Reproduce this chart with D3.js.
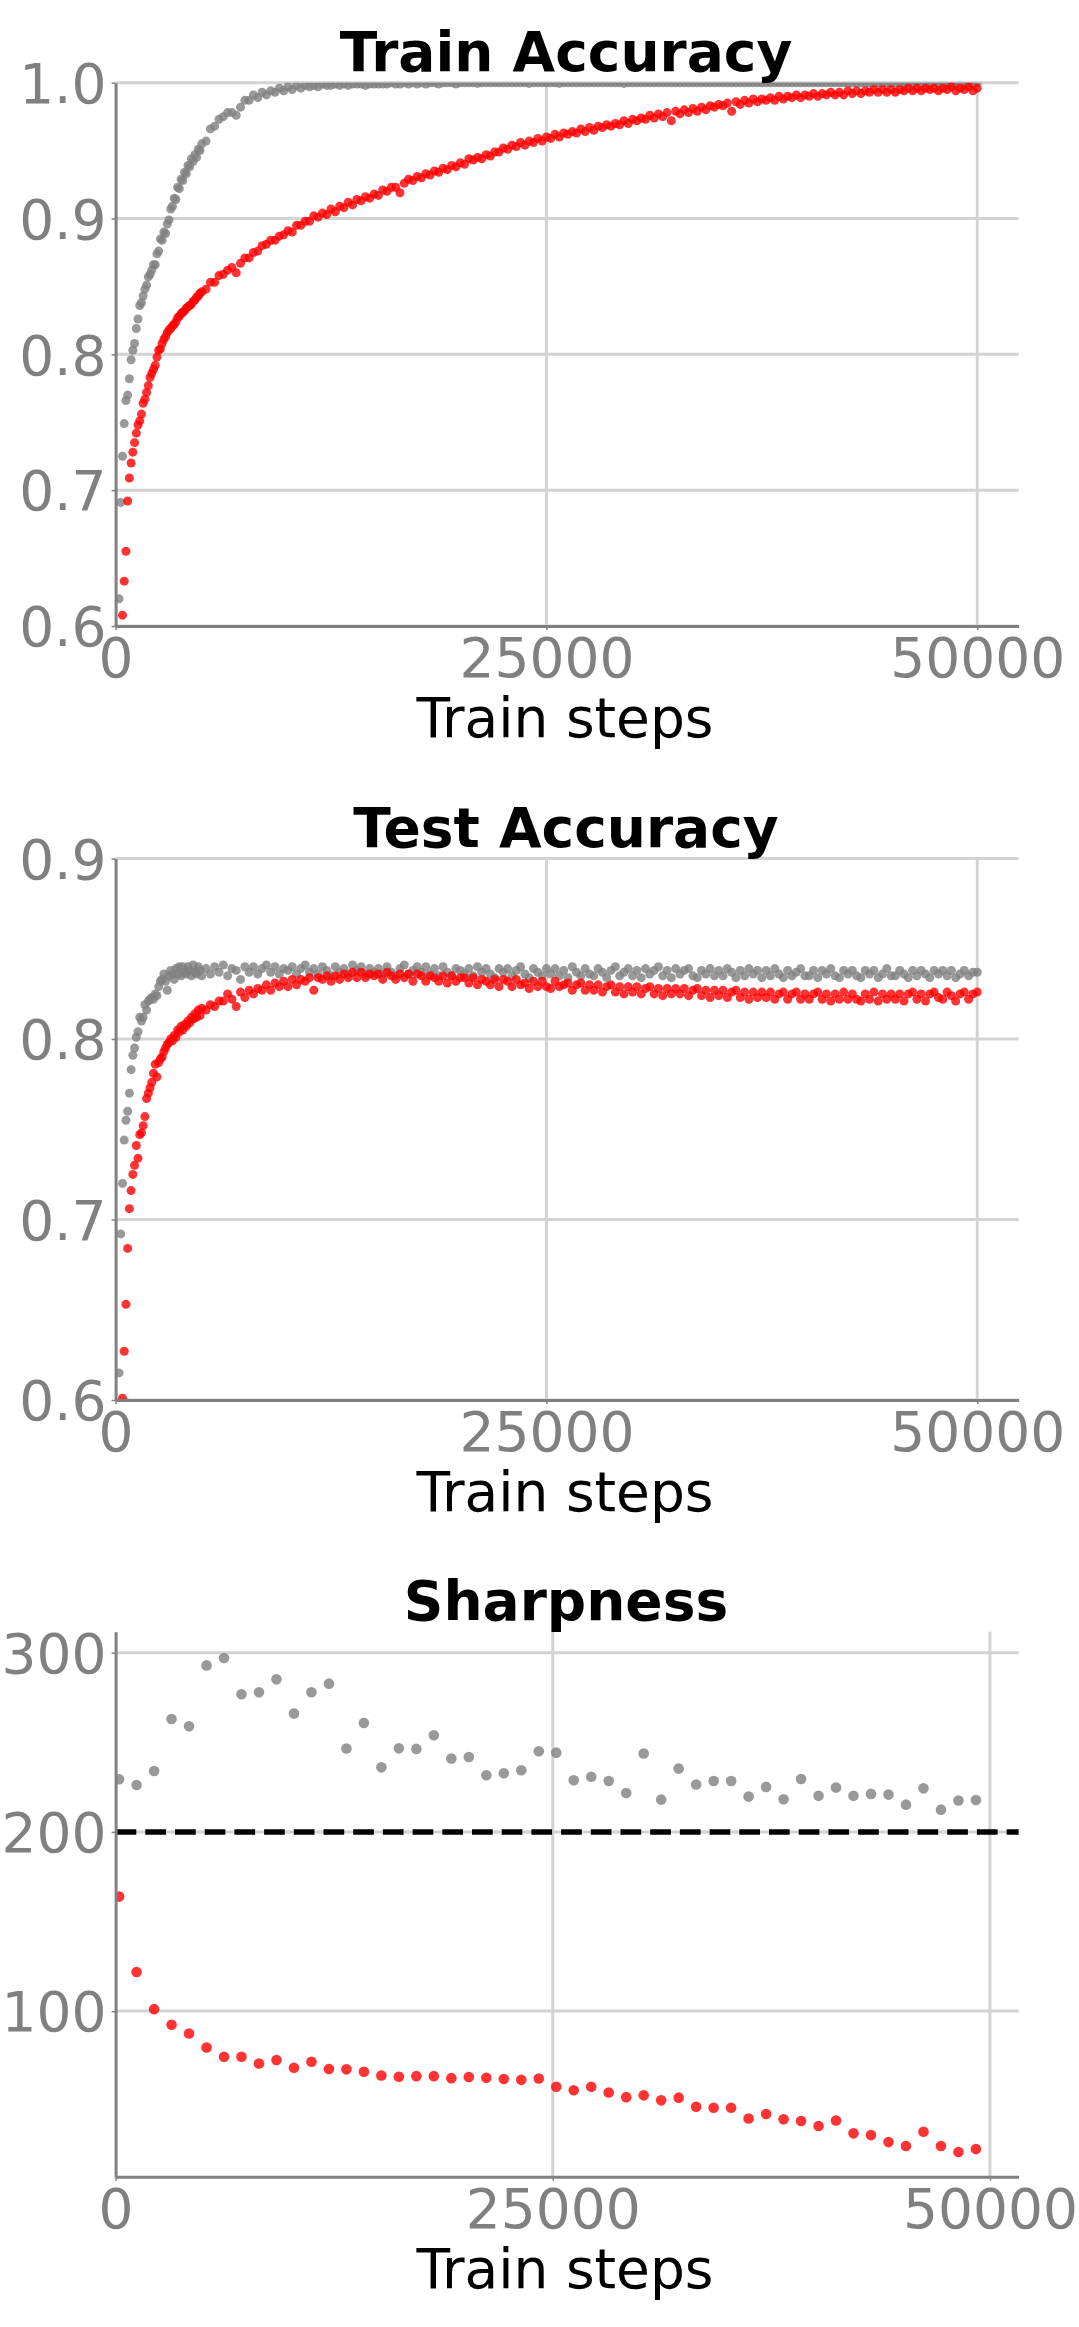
<!DOCTYPE html>
<html>

<head>
	<meta charset="utf-8">
	<title>Train Accuracy / Test Accuracy / Sharpness</title>
	<script src="https://d3js.org/d3.v7.min.js"></script>
	<style>
		body {
			margin: 0;
			padding: 0;
			background: white;
			overflow: hidden;
		}

		svg text {
			font-family: "DejaVu Sans", sans-serif;
		}

		.title {
			font-size: 55px;
			font-weight: bold;
			fill: black;
			text-anchor: middle;
		}

		.xlabel {
			font-size: 55px;
			fill: black;
			text-anchor: middle;
		}
	</style>
</head>

<body>
	<script>
		// evaluation steps: every 100 steps up to 5000, then every 250
		const earlySteps = d3.range(100, 5001, 100);
		const lateSteps = d3.range(5250, 50001, 250);
		const accSteps = earlySteps.concat(lateSteps);

		const trainAccGrey = [
			0.585, 0.620, 0.691, 0.725, 0.749, 0.766, 0.770, 0.782, 0.796, 0.803,
			0.808, 0.819, 0.826, 0.836, 0.838, 0.843, 0.848, 0.851, 0.857, 0.859,
			0.862, 0.866, 0.866, 0.874, 0.876, 0.885, 0.884, 0.890, 0.889, 0.896,
			0.899, 0.907, 0.909, 0.915, 0.914, 0.923, 0.922, 0.929, 0.928, 0.934,
			0.933, 0.939, 0.938, 0.944, 0.942, 0.947, 0.945, 0.951, 0.950, 0.955,
			// 5250 -> 50000
			0.957, 0.966, 0.968, 0.973, 0.975, 0.978, 0.978, 0.976, 0.982, 0.987,
			0.987, 0.991, 0.989, 0.993, 0.991, 0.994, 0.993, 0.996, 0.994, 0.997,
			0.995, 0.998, 0.996, 0.998, 0.997, 0.998, 0.997, 0.999, 0.998, 0.998,
			0.999, 0.998, 0.999, 0.998, 0.999, 0.999, 0.999, 0.998, 0.999, 0.999,
			0.999, 0.999, 0.999, 1.000, 0.999, 0.999, 1.000, 0.999, 1.000, 0.999,
			1.000, 0.999, 1.000, 1.000, 0.999, 1.000, 1.000, 1.000, 0.999, 1.000,
			1.000, 1.000, 1.000, 0.9995, 1.000, 1.000, 1.000, 1.000, 1.000, 1.000,
			1.000, 1.000, 1.000, 1.000, 1.000, 0.9995, 1.000, 1.000, 1.000, 1.000,
			1.000, 1.000, 0.9995, 1.000, 1.000, 1.000, 1.000, 1.000, 1.000, 1.000,
			1.000, 1.000, 1.000, 1.000, 1.000, 1.000, 1.000, 0.9995, 1.000, 1.000,
			1.000, 1.000, 1.000, 1.000, 1.000, 1.000, 1.000, 1.000, 1.000, 1.000,
			1.000, 1.000, 1.000, 1.000, 1.000, 1.000, 1.000, 1.000, 1.000, 1.000,
			1.000, 1.000, 1.000, 1.000, 1.000, 1.000, 1.000, 1.000, 1.000, 1.000,
			1.000, 1.000, 1.000, 1.000, 1.000, 1.000, 1.000, 1.000, 1.000, 1.000,
			1.000, 1.000, 1.000, 1.000, 1.000, 1.000, 1.000, 1.000, 1.000, 1.000,
			1.000, 1.000, 1.000, 1.000, 1.000, 1.000, 1.000, 1.000, 1.000, 1.000,
			1.000, 1.000, 1.000, 1.000, 1.000, 1.000, 1.000, 1.000, 1.000, 1.000,
			1.000, 1.000, 1.000, 1.000, 1.000, 1.000, 1.000, 1.000, 1.000, 1.000
		];

		const trainAccRed = [
			0.520, 0.550, 0.585, 0.608, 0.633, 0.655, 0.692, 0.709, 0.720, 0.728,
			0.735, 0.742, 0.748, 0.751, 0.756, 0.764, 0.767, 0.772, 0.777, 0.783,
			0.786, 0.789, 0.792, 0.798, 0.803, 0.804, 0.808, 0.811, 0.813, 0.816,
			0.818, 0.819, 0.821, 0.822, 0.824, 0.827, 0.828, 0.830, 0.831, 0.832,
			0.834, 0.835, 0.836, 0.837, 0.839, 0.840, 0.842, 0.843, 0.845, 0.846,
			// 5250 -> 50000
			0.848, 0.853, 0.853, 0.858, 0.859, 0.862, 0.864, 0.860, 0.867, 0.871,
			0.871, 0.875, 0.876, 0.880, 0.881, 0.884, 0.884, 0.887, 0.888, 0.891,
			0.890, 0.895, 0.895, 0.898, 0.898, 0.902, 0.901, 0.904, 0.903, 0.907,
			0.905, 0.909, 0.908, 0.912, 0.910, 0.914, 0.913, 0.916, 0.915, 0.918,
			0.917, 0.921, 0.920, 0.923, 0.923, 0.919, 0.926, 0.929, 0.928, 0.931,
			0.930, 0.933, 0.932, 0.935, 0.934, 0.937, 0.936, 0.939, 0.938, 0.941,
			0.940, 0.944, 0.943, 0.945, 0.944, 0.947, 0.946, 0.949, 0.949, 0.952,
			0.951, 0.954, 0.953, 0.956, 0.954, 0.957, 0.956, 0.959, 0.957, 0.960,
			0.959, 0.962, 0.960, 0.963, 0.962, 0.964, 0.963, 0.966, 0.964, 0.967,
			0.965, 0.968, 0.967, 0.969, 0.968, 0.970, 0.969, 0.972, 0.970, 0.973,
			0.972, 0.974, 0.973, 0.976, 0.974, 0.977, 0.975, 0.978, 0.972, 0.979,
			0.977, 0.980, 0.978, 0.981, 0.979, 0.982, 0.980, 0.983, 0.982, 0.984,
			0.983, 0.985, 0.979, 0.986, 0.984, 0.987, 0.985, 0.988, 0.986, 0.988,
			0.987, 0.989, 0.987, 0.990, 0.988, 0.990, 0.989, 0.991, 0.989, 0.991,
			0.990, 0.992, 0.990, 0.992, 0.991, 0.993, 0.991, 0.993, 0.991, 0.994,
			0.992, 0.994, 0.992, 0.994, 0.993, 0.995, 0.993, 0.995, 0.993, 0.995,
			0.993, 0.995, 0.994, 0.996, 0.994, 0.996, 0.994, 0.996, 0.995, 0.996,
			0.994, 0.996, 0.995, 0.997, 0.994, 0.996, 0.995, 0.997, 0.994, 0.996
		];

		const testAccGrey = [
			0.580, 0.615, 0.692, 0.720, 0.744, 0.755, 0.760, 0.770, 0.783, 0.791,
			0.795, 0.801, 0.804, 0.812, 0.810, 0.812, 0.819, 0.816, 0.821, 0.822,
			0.823, 0.822, 0.825, 0.824, 0.829, 0.832, 0.833, 0.836, 0.832, 0.827,
			0.835, 0.838, 0.836, 0.833, 0.839, 0.836, 0.840, 0.835, 0.840, 0.837,
			0.836, 0.840, 0.838, 0.835, 0.841, 0.837, 0.836, 0.840, 0.838, 0.835,
			// 5250 -> 50000
			0.839, 0.836, 0.840, 0.837, 0.841, 0.835, 0.839, 0.838, 0.833, 0.840,
			0.837, 0.840, 0.836, 0.839, 0.841, 0.837, 0.840, 0.836, 0.839, 0.838,
			0.840, 0.836, 0.839, 0.841, 0.837, 0.839, 0.836, 0.840, 0.838, 0.835,
			0.840, 0.837, 0.839, 0.836, 0.841, 0.838, 0.840, 0.836, 0.839, 0.837,
			0.839, 0.836, 0.840, 0.837, 0.835, 0.839, 0.841, 0.836, 0.838, 0.840,
			0.837, 0.840, 0.836, 0.839, 0.835, 0.840, 0.837, 0.835, 0.839, 0.838,
			0.836, 0.839, 0.835, 0.840, 0.837, 0.839, 0.836, 0.834, 0.839, 0.837,
			0.839, 0.835, 0.838, 0.840, 0.836, 0.834, 0.839, 0.837, 0.835, 0.839,
			0.836, 0.839, 0.835, 0.838, 0.834, 0.840, 0.837, 0.835, 0.839, 0.836,
			0.835, 0.839, 0.837, 0.834, 0.838, 0.840, 0.835, 0.837, 0.839, 0.835,
			0.838, 0.834, 0.839, 0.836, 0.838, 0.840, 0.835, 0.838, 0.834, 0.839,
			0.836, 0.838, 0.839, 0.835, 0.834, 0.838, 0.836, 0.839, 0.835, 0.838,
			0.835, 0.839, 0.837, 0.834, 0.838, 0.835, 0.839, 0.836, 0.838, 0.834,
			0.838, 0.835, 0.839, 0.836, 0.834, 0.838, 0.835, 0.837, 0.839, 0.835,
			0.835, 0.838, 0.834, 0.838, 0.836, 0.839, 0.835, 0.834, 0.838, 0.836,
			0.838, 0.835, 0.834, 0.838, 0.836, 0.838, 0.834, 0.836, 0.839, 0.835,
			0.835, 0.838, 0.836, 0.834, 0.838, 0.835, 0.838, 0.836, 0.834, 0.838,
			0.836, 0.838, 0.835, 0.838, 0.834, 0.836, 0.838, 0.835, 0.837, 0.837
		];

		const testAccRed = [
			0.540, 0.565, 0.585, 0.601, 0.627, 0.653, 0.684, 0.706, 0.716, 0.725,
			0.730, 0.741, 0.734, 0.747, 0.748, 0.752, 0.757, 0.767, 0.770, 0.773,
			0.776, 0.781, 0.786, 0.779, 0.787, 0.789, 0.790, 0.793, 0.795, 0.797,
			0.798, 0.800, 0.799, 0.802, 0.801, 0.805, 0.804, 0.807, 0.805, 0.808,
			0.807, 0.810, 0.809, 0.812, 0.811, 0.814, 0.812, 0.816, 0.813, 0.817,
			// 5250 -> 50000
			0.816, 0.819, 0.818, 0.821, 0.821, 0.825, 0.822, 0.818, 0.826, 0.823,
			0.827, 0.825, 0.828, 0.827, 0.830, 0.827, 0.831, 0.829, 0.832, 0.829,
			0.833, 0.830, 0.833, 0.832, 0.834, 0.827, 0.834, 0.833, 0.835, 0.832,
			0.835, 0.833, 0.836, 0.834, 0.837, 0.834, 0.837, 0.834, 0.836, 0.835,
			0.836, 0.833, 0.837, 0.835, 0.833, 0.836, 0.834, 0.836, 0.832, 0.836,
			0.835, 0.832, 0.835, 0.834, 0.832, 0.835, 0.831, 0.835, 0.832, 0.834,
			0.834, 0.831, 0.834, 0.830, 0.833, 0.832, 0.830, 0.833, 0.829, 0.833,
			0.832, 0.829, 0.833, 0.830, 0.831, 0.828, 0.832, 0.829, 0.832, 0.829,
			0.828, 0.832, 0.829, 0.830, 0.831, 0.827, 0.830, 0.831, 0.827, 0.830,
			0.827, 0.830, 0.826, 0.829, 0.830, 0.826, 0.829, 0.825, 0.829, 0.826,
			0.829, 0.825, 0.828, 0.829, 0.825, 0.828, 0.824, 0.828, 0.825, 0.828,
			0.825, 0.828, 0.824, 0.827, 0.828, 0.824, 0.827, 0.823, 0.827, 0.824,
			0.827, 0.823, 0.826, 0.827, 0.823, 0.826, 0.822, 0.826, 0.823, 0.826,
			0.823, 0.826, 0.822, 0.825, 0.826, 0.822, 0.825, 0.826, 0.822, 0.825,
			0.822, 0.825, 0.826, 0.822, 0.825, 0.821, 0.825, 0.822, 0.826, 0.822,
			0.825, 0.822, 0.821, 0.825, 0.822, 0.826, 0.821, 0.825, 0.822, 0.825,
			0.822, 0.825, 0.821, 0.825, 0.826, 0.822, 0.825, 0.821, 0.825, 0.826,
			0.823, 0.822, 0.826, 0.824, 0.821, 0.825, 0.826, 0.822, 0.825, 0.826
		];

		// sharpness measured every 1000 steps
		const sharpSteps = d3.range(200, 50000, 1000);
		const sharpGrey = [
			229.4, 226.2, 234.0, 263.0, 258.9, 292.9, 297.0, 276.8, 277.9, 285.1,
			266.0, 277.9, 282.7, 246.5, 260.8, 236.0, 246.6, 246.3, 253.9, 240.9,
			241.8, 231.6, 232.7, 234.4, 245.0, 244.2, 228.8, 230.8, 228.4, 221.7,
			243.7, 218.0, 235.3, 226.4, 228.4, 228.4, 219.7, 225.1, 218.2, 229.5,
			220.1, 224.7, 220.2, 221.2, 220.8, 215.2, 224.3, 212.4, 217.5, 217.8
		];
		const sharpRed = [
			163.9, 121.8, 101.1, 92.4, 87.5, 79.7, 74.5, 74.5, 70.8, 72.7,
			68.4, 71.7, 67.7, 67.5, 66.2, 64.1, 63.4, 63.7, 63.7, 62.6,
			63.2, 62.8, 62.1, 61.7, 62.4, 57.8, 55.8, 57.8, 54.6, 52.0,
			53.0, 50.2, 51.7, 46.6, 46.1, 46.1, 40.1, 42.6, 39.6, 38.7,
			35.9, 39.0, 31.8, 30.8, 26.9, 24.7, 32.7, 24.7, 21.4, 23.0
		];
		const sharpThreshold = 200;

		const xTicks = [0, 25000, 50000];
		const trainTicks = [0.6, 0.7, 0.8, 0.9, 1.0];
		const testTicks = [0.6, 0.7, 0.8, 0.9];
		const sharpTicks = [100, 200, 300];

		var width = 1079,
			height = 2327;
		var left = 115.6,
			right = 1018.6;
		var greyCol = "#808080",
			redCol = "#ff0000";

		var svg = d3.select("body").append("svg")
			.attr("width", width)
			.attr("height", height)
			.style("background", "white");

		var panels = [{
			id: 0,
			title: "Train Accuracy",
			top: 82.7,
			bottom: 626,
			yDomain: [0.6, 1.0],
			yTicks: trainTicks,
			fmt: ".1f",
			xMax: 52400,
			r: 4.5,
			series: [[accSteps, trainAccGrey, greyCol], [accSteps, trainAccRed, redCol]]
		}, {
			id: 1,
			title: "Test Accuracy",
			top: 858.5,
			bottom: 1400,
			yDomain: [0.6, 0.9],
			yTicks: testTicks,
			fmt: ".1f",
			xMax: 52400,
			r: 4.5,
			series: [[accSteps, testAccGrey, greyCol], [accSteps, testAccRed, redCol]]
		}, {
			id: 2,
			title: "Sharpness",
			top: 1631.7,
			bottom: 2176.7,
			yDomain: [7.6, 311.7],
			yTicks: sharpTicks,
			fmt: "d",
			xMax: 51640,
			r: 5.3,
			hline: sharpThreshold,
			series: [[sharpSteps, sharpGrey, greyCol], [sharpSteps, sharpRed, redCol]]
		}];

		panels.forEach(drawPanel);

		function drawPanel(p) {
			var x = d3.scaleLinear().domain([0, p.xMax]).range([left, right]);
			var y = d3.scaleLinear().domain(p.yDomain).range([p.bottom, p.top]);
			var g = svg.append("g");

			svg.append("clipPath").attr("id", "clip" + p.id)
				.append("rect")
				.attr("x", left).attr("y", p.top)
				.attr("width", right - left).attr("height", p.bottom - p.top);

			// grid
			g.append("g").selectAll("line").data(p.yTicks).join("line")
				.attr("x1", left).attr("x2", right)
				.attr("y1", (d) => y(d)).attr("y2", (d) => y(d))
				.style("stroke", "#d3d3d3").style("stroke-width", 3);
			g.append("g").selectAll("line").data(xTicks.filter((d) => d > 0)).join("line")
				.attr("x1", (d) => x(d)).attr("x2", (d) => x(d))
				.attr("y1", p.top).attr("y2", p.bottom)
				.style("stroke", "#d3d3d3").style("stroke-width", 3);

			// points
			var pts = g.append("g").attr("clip-path", "url(#clip" + p.id + ")");
			p.series.forEach((s) => {
				var data = s[1].map((v, i) => [s[0][i], v]).filter((d) => d[0] != null);
				pts.append("g").selectAll("circle").data(data).join("circle")
					.attr("cx", (d) => x(d[0]))
					.attr("cy", (d) => y(d[1]))
					.attr("r", p.r)
					.style("fill", s[2])
					.style("fill-opacity", 0.8);
			});

			if (p.hline != null) {
				g.append("line")
					.attr("x1", left).attr("x2", right)
					.attr("y1", y(p.hline)).attr("y2", y(p.hline))
					.style("stroke", "black")
					.style("stroke-width", 5.5)
					.style("stroke-dasharray", "20.7,9");
			}

			// axes
			g.append("g")
				.attr("transform", "translate(" + left + ",0)")
				.call(d3.axisLeft(y).tickValues(p.yTicks).tickFormat(d3.format(p.fmt))
					.tickSizeInner(4).tickSizeOuter(0).tickPadding(5))
				.call(styleAxis)
				.call((a) => a.selectAll("text").attr("dy", "0.36em"));

			g.append("g")
				.attr("transform", "translate(0," + p.bottom + ")")
				.call(d3.axisBottom(x).tickValues(xTicks).tickFormat(d3.format("d"))
					.tickSizeInner(4).tickSizeOuter(0).tickPadding(8))
				.call(styleAxis);

			g.append("text").attr("class", "title")
				.attr("x", 566).attr("y", p.top - 12)
				.text(p.title);

			g.append("text").attr("class", "xlabel")
				.attr("x", 565).attr("y", p.bottom + 111)
				.text("Train steps");
		}

		function styleAxis(a) {
			a.attr("color", greyCol)
				.attr("font-size", 55)
				.attr("font-family", "DejaVu Sans");
			a.select(".domain").attr("stroke-width", 3);
			a.selectAll(".tick line").attr("stroke-width", 1.5);
			a.selectAll("text").attr("fill", greyCol);
		}
	</script>
</body>

</html>
